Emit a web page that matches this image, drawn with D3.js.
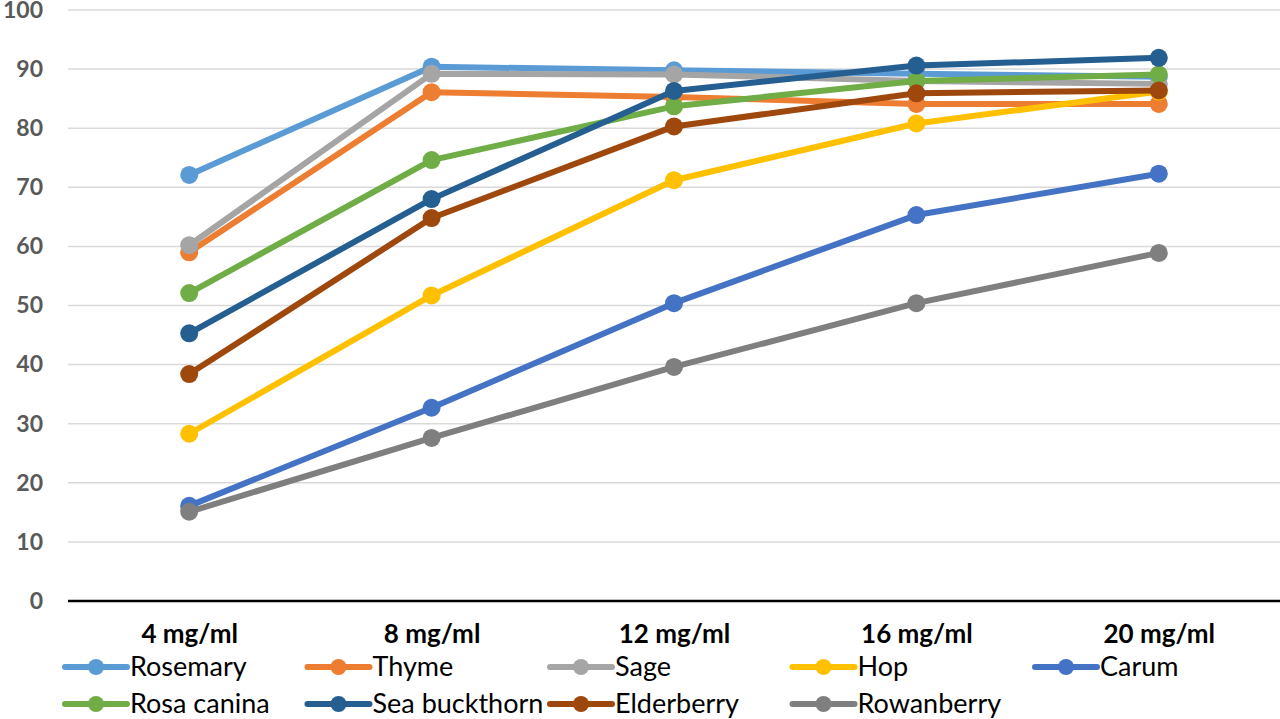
<!DOCTYPE html>
<html>
<head>
<meta charset="utf-8">
<script src="https://cdnjs.cloudflare.com/ajax/libs/d3/7.8.5/d3.min.js"></script>
<style>
  body { margin: 0; background: #fff; }
  svg { display: block; }
</style>
</head>
<body>
<svg id="chart"></svg>
<script>
// Concentrations on the x axis
var doses = ["4 mg/ml", "8 mg/ml", "12 mg/ml", "16 mg/ml", "20 mg/ml"];

// Series names, in legend / drawing order
var names = ["Rosemary", "Thyme", "Sage", "Hop", "Carum",
             "Rosa canina", "Sea buckthorn", "Elderberry", "Rowanberry"];

// Values
var rosemary     = [72.1, 90.4, 89.8, 89.2, 88.7];
var thyme        = [59.0, 86.1, 85.3, 84.1, 84.1];
var sage         = [60.2, 89.2, 89.1, 88.0, 87.5];
var hop          = [28.3, 51.7, 71.2, 80.8, 86.2];
var carum        = [16.1, 32.7, 50.4, 65.3, 72.3];
var rosaCanina   = [52.1, 74.6, 83.7, 88.0, 89.1];
var seaBuckthorn = [45.3, 68.0, 86.3, 90.6, 91.9];
var elderberry   = [38.4, 64.8, 80.3, 85.9, 86.4];
var rowanberry   = [15.1, 27.6, 39.6, 50.4, 58.9];

var yTicks = [0, 10, 20, 30, 40, 50, 60, 70, 80, 90, 100];

var values = [rosemary, thyme, sage, hop, carum,
              rosaCanina, seaBuckthorn, elderberry, rowanberry];
var colors = ["#5b9bd5", "#ed7d31", "#a5a5a5", "#ffc000", "#4472c4",
              "#70ad47", "#255e91", "#9e480e", "#7f7f7f"];

// ----------------------------------------------------------------------------
// Layout
// ----------------------------------------------------------------------------
var W = 1280, H = 719;
var plot = {left: 68, right: 1280, top: 10, bottom: 601};
var font = "Lato, 'Open Sans', sans-serif";

var svg = d3.select("#chart").attr("width", W).attr("height", H);

var x = d3.scalePoint().domain(doses)
    .range([plot.left, plot.right]).padding(0.5);
var y = d3.scaleLinear().domain([0, 100]).range([plot.bottom, plot.top]);

// gridlines
svg.append("g").selectAll("line")
    .data(yTicks.filter(function(d) { return d > 0; }))
    .join("line")
    .attr("x1", plot.left).attr("x2", plot.right)
    .attr("y1", function(d) { return y(d); })
    .attr("y2", function(d) { return y(d); })
    .attr("stroke", "#d9d9d9").attr("stroke-width", 1.5);

// y axis labels (no axis line in the original)
var yAxis = svg.append("g")
    .attr("transform", "translate(" + 43 + ",0)")
    .call(d3.axisLeft(y).tickValues(yTicks).tickSize(0).tickPadding(0));
yAxis.select(".domain").remove();
yAxis.selectAll("text")
    .attr("font-family", font)
    .attr("font-weight", "bold")
    .attr("font-size", 23)
    .attr("fill", "#595959");

// x axis labels
var xAxis = svg.append("g")
    .attr("transform", "translate(0," + plot.bottom + ")")
    .call(d3.axisBottom(x).tickSize(0).tickPadding(24));
xAxis.select(".domain").remove();
xAxis.selectAll("text")
    .attr("font-family", font)
    .attr("font-weight", "bold")
    .attr("font-size", 26)
    .attr("fill", "#000");

// baseline
svg.append("line")
    .attr("x1", plot.left).attr("x2", plot.right)
    .attr("y1", y(0)).attr("y2", y(0))
    .attr("stroke", "#000").attr("stroke-width", 2.5);

// ----------------------------------------------------------------------------
// Series
// ----------------------------------------------------------------------------
var line = d3.line()
    .x(function(d, i) { return x(doses[i]); })
    .y(function(d) { return y(d); });

values.forEach(function(vals, s) {
    var g = svg.append("g");
    g.append("path")
        .attr("d", line(vals))
        .attr("fill", "none")
        .attr("stroke", colors[s])
        .attr("stroke-width", 6)
        .attr("stroke-linejoin", "round");
    g.selectAll("circle")
        .data(vals)
        .join("circle")
        .attr("cx", function(d, i) { return x(doses[i]); })
        .attr("cy", function(d) { return y(d); })
        .attr("r", 9)
        .attr("fill", colors[s]);
});

// ----------------------------------------------------------------------------
// Legend
// ----------------------------------------------------------------------------
var legend = svg.append("g");
names.forEach(function(name, i) {
    var col = i % 5, row = Math.floor(i / 5);
    var lx = 65 + col * 242.5, ly = 667 + row * 37;
    var item = legend.append("g").attr("transform", "translate(" + lx + "," + ly + ")");
    item.append("line")
        .attr("x1", 0).attr("x2", 62).attr("y1", 0).attr("y2", 0)
        .attr("stroke", colors[i]).attr("stroke-width", 6)
        .attr("stroke-linecap", "round");
    item.append("circle").attr("cx", 31).attr("cy", 0).attr("r", 8)
        .attr("fill", colors[i]);
    item.append("text")
        .attr("x", 65).attr("y", 0).attr("dy", "0.35em")
        .attr("font-family", font)
        .attr("font-size", 27)
        .attr("fill", "#000")
        .text(name);
});
</script>
</body>
</html>
